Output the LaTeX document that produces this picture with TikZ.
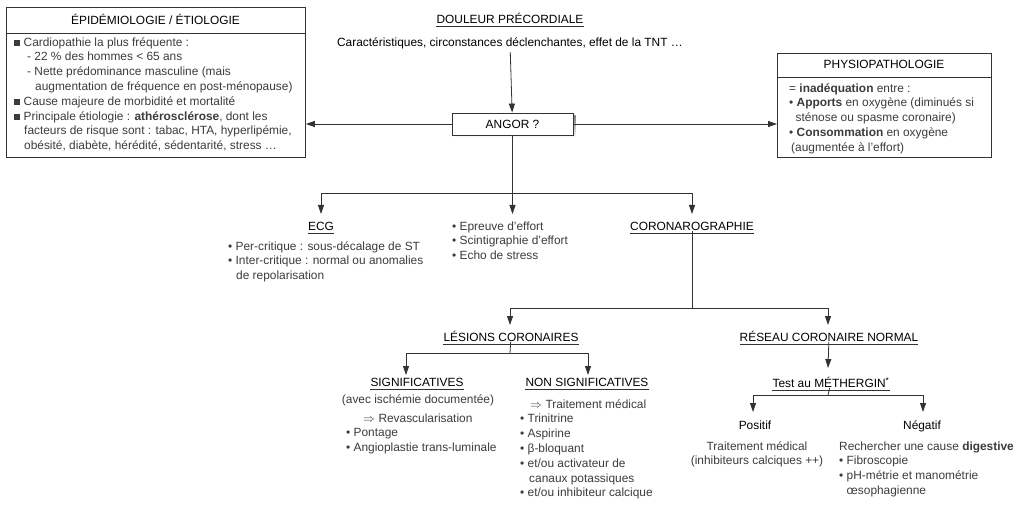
\documentclass[tikz,border=0pt]{standalone}
\usepackage{fontspec}
\setmainfont{Liberation Sans}
\usetikzlibrary{arrows.meta,calc}
\definecolor{ink}{HTML}{333333}
\definecolor{txt}{HTML}{3C3C3C}
\definecolor{shade}{HTML}{9A9A9A}
\newcommand{\sqb}{\rule[0pt]{6pt}{6pt}\hspace{3.5pt}}
\newcommand{\bul}{\textbullet\ }
\newcommand{\ulin}[1]{\draw[uline] ([yshift=-2.6pt]#1.base west) -- ([yshift=-2.6pt]#1.base east);}
\tikzset{
  every node/.style={font=\fontsize{11.9}{14.8}\selectfont, text=txt, inner sep=0pt},
  frame/.style={draw=ink, line width=0.8pt},
  conn/.style={draw=ink, line width=0.8pt},
  uline/.style={draw=ink, line width=0.7pt},
  arr/.style={conn, -{Triangle[length=9pt,width=6pt]}},
  ttl/.style={text=black, anchor=base},
  body/.style={align=left, anchor=north west},
}
\begin{document}
\begin{tikzpicture}[x=1pt,y=-1pt]
\useasboundingbox[fill=white] (0,0) rectangle (1024,518);

% ---- left box
\node[frame, anchor=north west, minimum width=299pt, minimum height=150pt] (epi) at (6,7) {};
\node[ttl] (epit) at (155.5,24.5) {ÉPIDÉMIOLOGIE / ÉTIOLOGIE};
\draw[frame] (6,33) -- (305,33);
\node[body] (epib) at (14,35.5) {\strut\sqb Cardiopathie la plus fréquente :\\
\hspace*{13pt}- 22 \% des hommes < 65 ans\\
\hspace*{13pt}- Nette prédominance masculine (mais\\
\hspace*{21pt}augmentation de fréquence en post-ménopause)\\
\sqb Cause majeure de morbidité et mortalité\\
\sqb Principale étiologie : \textbf{athérosclérose}, dont les\\
\hspace*{10pt}facteurs de risque sont : tabac, HTA, hyperlipémie,\\
\hspace*{10pt}obésité, diabète, hérédité, sédentarité, stress …};

% ---- right box
\node[frame, anchor=north west, minimum width=214pt, minimum height=104pt] (phy) at (777,53) {};
\node[ttl] (phyt) at (884,69) {PHYSIOPATHOLOGIE};
\draw[frame] (777,77) -- (991,77);
\node[body] (phyb) at (789,81.5) {\strut= \textbf{inadéquation} entre :\\
\bul\textbf{Apports} en oxygène (diminués si\\
\hspace*{6.5pt}sténose ou spasme coronaire)\\
\bul\textbf{Consommation} en oxygène\\
\hspace*{2pt}(augmentée à l'effort)};

% ---- top center
\node[ttl] (dou) at (510,23.5) {DOULEUR PRÉCORDIALE};
\ulin{dou}
\node[ttl] (car) at (510,46.5) {Caractéristiques, circonstances déclenchantes, effet de la TNT …};
\fill[shade] (455,116) rectangle (575.5,137.5);
\node[frame, fill=white, minimum width=121pt, minimum height=22pt, text=black] (angor) at (512.5,124) {ANGOR ?};
\draw[arr, shorten <=3pt] (car) -- (angor);
\draw[arr] (angor) -- (angor -| epi.east);
\draw[arr] (angor) -- (angor -| phy.west);

% ---- level 2
\coordinate (j1) at (512.5,193);
\coordinate (t1) at (321,214);
\coordinate (t2) at (512.5,214);
\coordinate (t3) at (692,214);
\draw[arr] (angor) -- (t2);
\draw[arr] (j1) -| (t1);
\draw[arr] (j1) -| (t3);

\node[ttl] (ecg) at (321,230.5) {ECG};
\ulin{ecg}
\node[body] (ecgl) at (228,239.5) {\strut\bul Per-critique : sous-décalage de ST\\
\bul Inter-critique : normal ou anomalies\\
\hspace*{8pt}de repolarisation};
\node[body] (tests) at (452,219.5) {\strut\bul Epreuve d'effort\\
\bul Scintigraphie d'effort\\
\bul Echo de stress};
\node[ttl] (coro) at (692,230.5) {CORONAROGRAPHIE};
\ulin{coro}

% ---- level 3
\coordinate (j2) at (692,308);
\coordinate (t4) at (510,325);
\coordinate (t5) at (828,325);
\draw[conn] (coro) -- (j2);
\draw[arr] (j2) -| (t4);
\draw[arr] (j2) -| (t5);

\node[ttl] (les) at (511,341.5) {LÉSIONS CORONAIRES};
\ulin{les}
\coordinate (j3) at (510,353);
\coordinate (t6) at (406,375);
\coordinate (t7) at (588,375);
\draw[conn] (les) -- (j3);
\draw[arr] (j3) -| (t6);
\draw[arr] (j3) -| (t7);

\node[ttl] (sig) at (417,386.5) {SIGNIFICATIVES};
\ulin{sig}
\node[anchor=base] (sigs) at (418,403.5) {(avec ischémie documentée)};
\node[body] (sigl) at (346,411.5) {\strut\hspace*{17pt}$\Rightarrow$ Revascularisation\\
\bul Pontage\\
\bul Angioplastie trans-luminale};

\node[ttl] (nsig) at (587,386.5) {NON SIGNIFICATIVES};
\ulin{nsig}
\node[body] (nsigl) at (520,397.5) {\strut\hspace*{10pt}$\Rightarrow$ Traitement médical\\
\bul Trinitrine\\
\bul Aspirine\\
\bul β-bloquant\\
\bul et/ou activateur de\\
\hspace*{9pt}canaux potassiques\\
\bul et/ou inhibiteur calcique};

\node[ttl] (res) at (829,341.5) {RÉSEAU CORONAIRE NORMAL};
\ulin{res}
\coordinate (t8) at (828,368);
\draw[arr] (res) -- (t8);
\node[ttl] (met) at (831,387.5) {Test au MÉTHERGIN\textsuperscript{*}};
\ulin{met}
\coordinate (j4) at (828,395);
\coordinate (t9) at (753,412);
\coordinate (t10) at (923,412);
\draw[conn] (met) -- (j4);
\draw[arr] (j4) -| (t9);
\draw[arr] (j4) -| (t10);

\node[ttl] (pos) at (755,429.5) {Positif};
\node[ttl] (neg) at (922,429.5) {Négatif};
\node[align=center, anchor=north] (posl) at (757,439.5) {\strut Traitement médical\\(inhibiteurs calciques ++)};
\node[body] (negl) at (839,439.5) {\strut Rechercher une cause \textbf{digestive}\\
\bul Fibroscopie\\
\bul pH-métrie et manométrie\\
\hspace*{7.5pt}œsophagienne};
\end{tikzpicture}
\end{document}
